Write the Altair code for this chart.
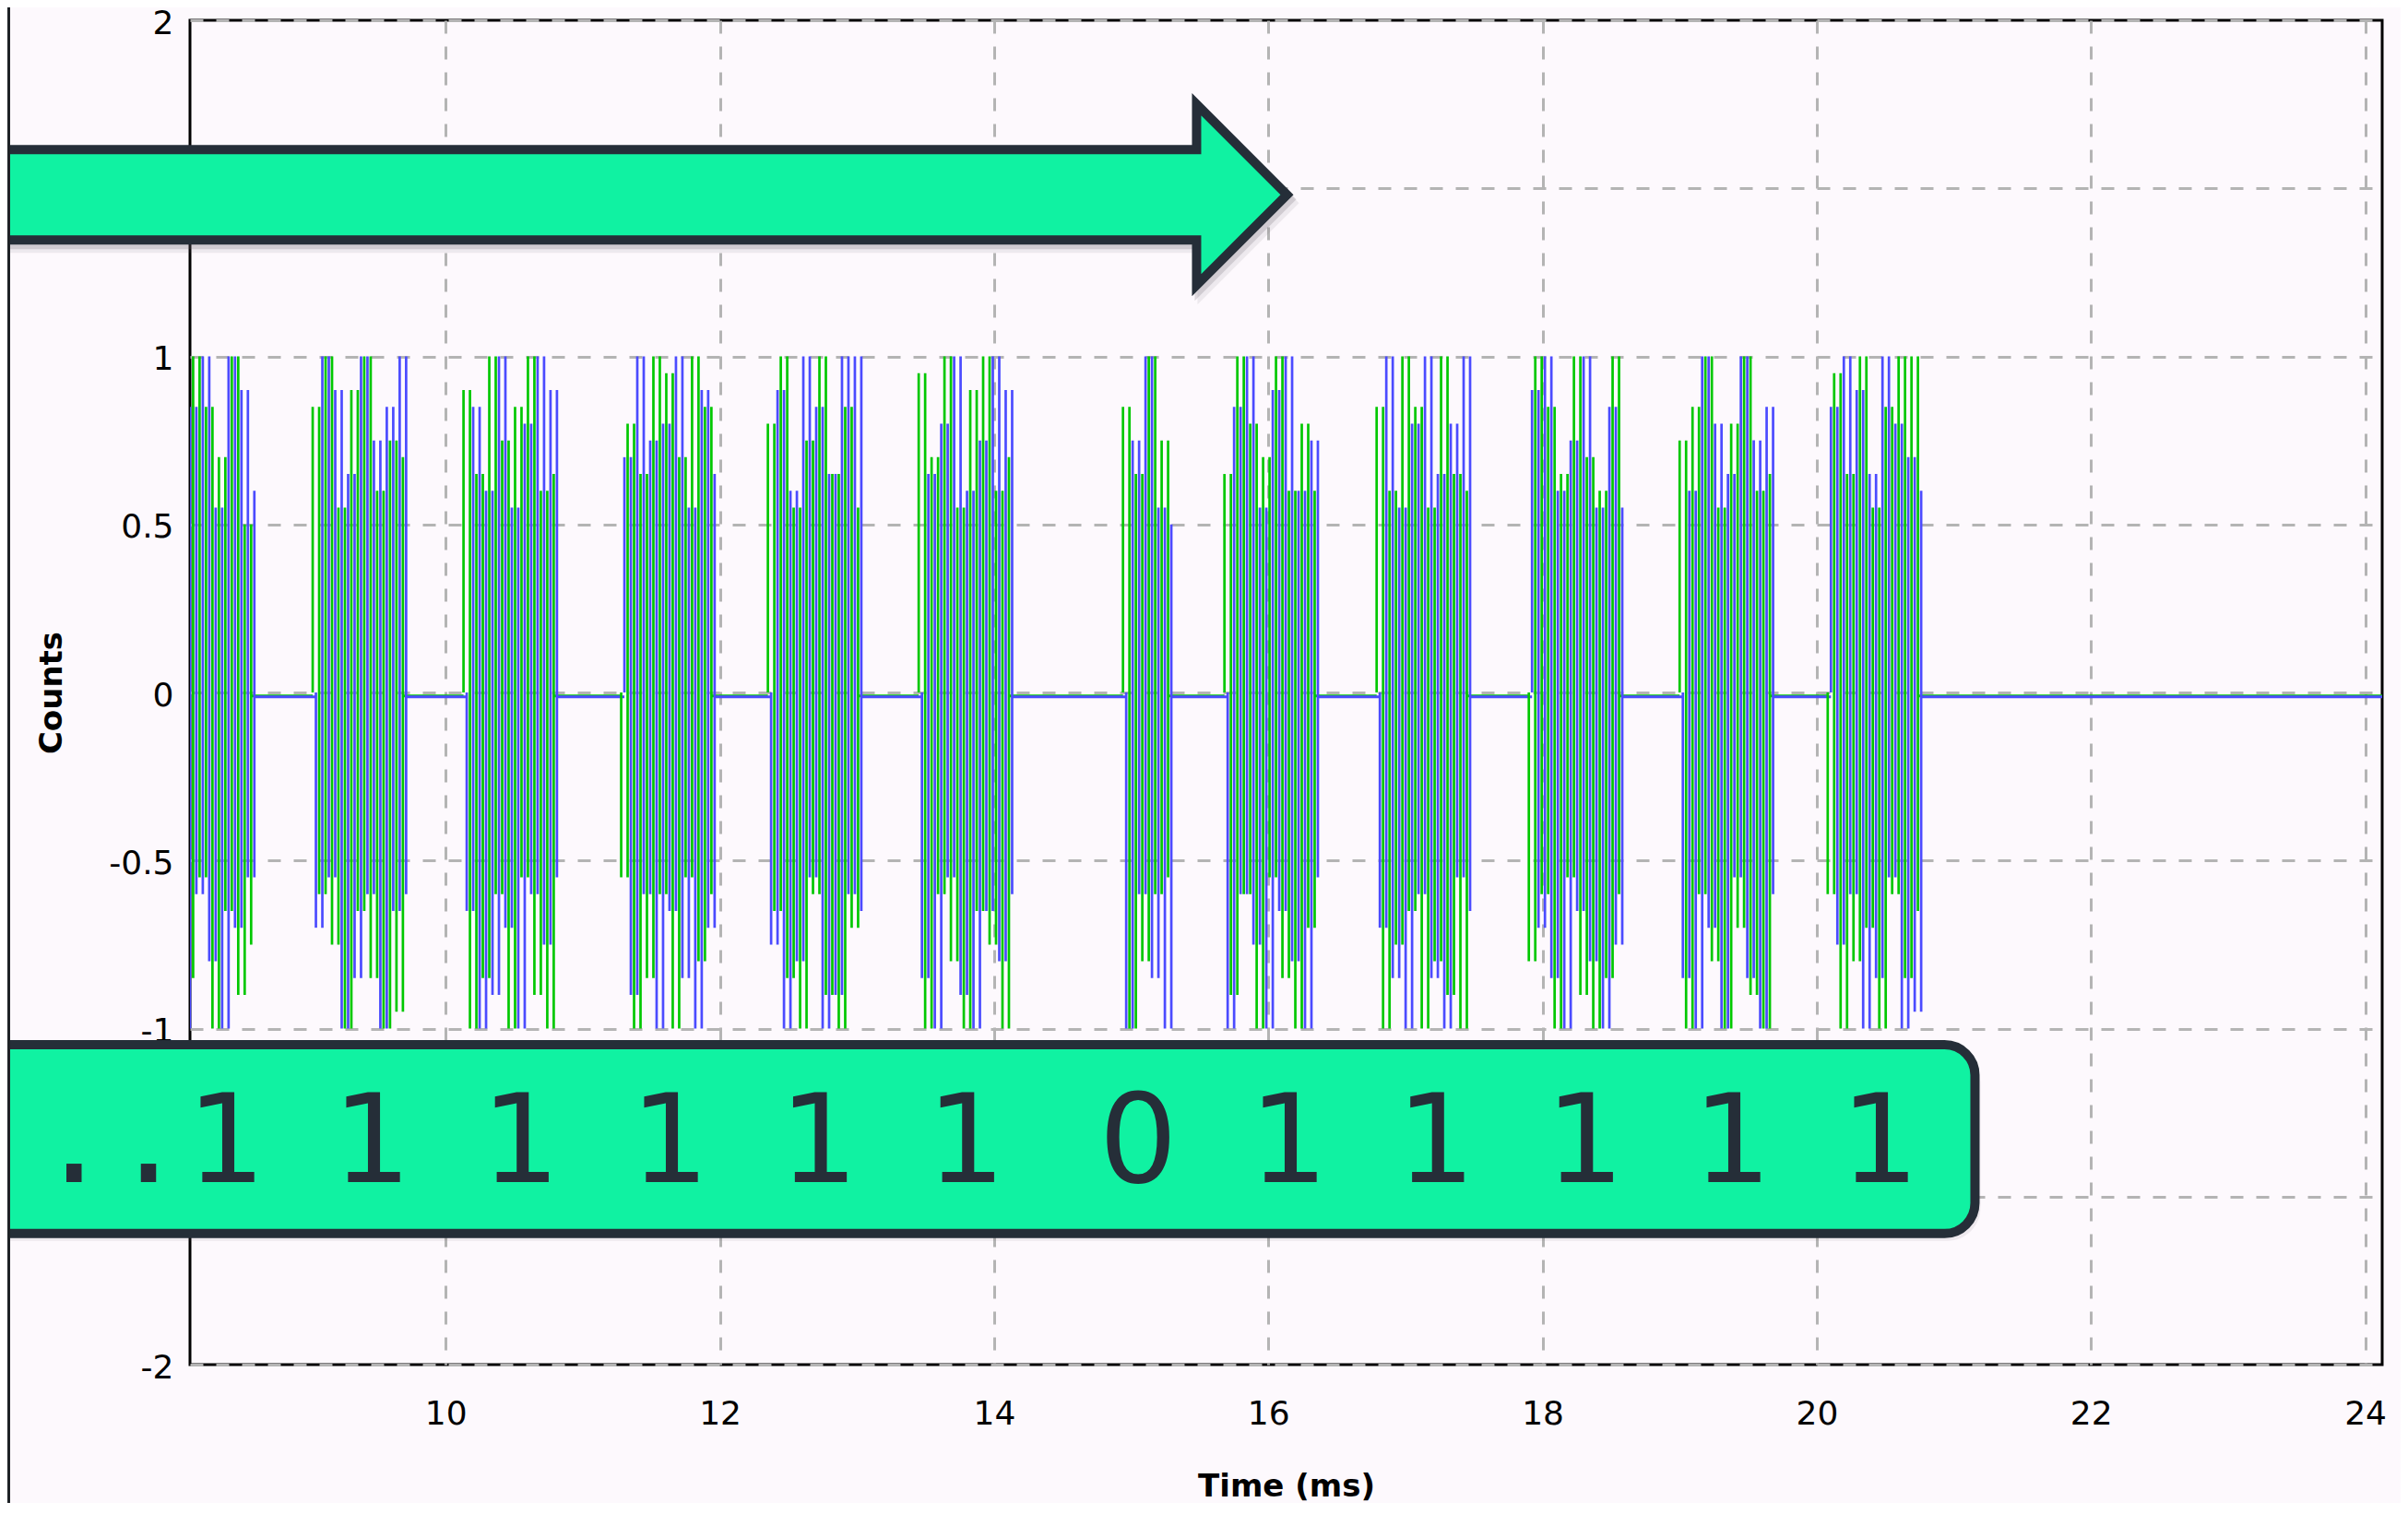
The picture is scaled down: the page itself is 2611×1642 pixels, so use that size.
import altair as alt
import pandas as pd

# ---------------- data ----------------
X_DOMAIN = [8.135, 24.124]
Y_DOMAIN = [-2, 2]
x_ticks = [10, 12, 14, 16, 18, 20, 22, 24]
y_ticks = [-2, -1.5, -1, -0.5, 0, 0.5, 1, 1.5, 2]

sample_pitch = 0.047      # ms between two samples of one channel
blue_offset = 0.0235      # blue channel sampled half a step later
trace_end = 24.124

burst_start = [7.97, 9.03, 10.13, 11.28, 12.35, 13.45, 14.94, 15.68, 16.79, 17.90, 19.00, 20.08]

# sample values in hundredths of a count
green_bursts = [
    [70, -100, 60, -85, 100, -55, 85, -100, 70, -65, 100, -90, 50, -75],
    [85, -60, 100, -75, 55, -100, 90, -65, 100, -85, 60, -100, 75, -95, 70],
    [90, -100, 65, -85, 100, -60, 75, -100, 85, -55, 100, -90, 60, -100, 65],
    [-55, 80, -100, 65, -85, 100, -60, 95, -100, 70, -55, 100, -80, 85, -60],
    [80, -65, 100, -85, 55, -100, 75, -60, 100, -90, 65, -100, 85, -70, 55],
    [95, -100, 70, -60, 100, -80, 55, -100, 90, -65, 100, -75, 60, -100, 70],
    [85, -100, 65, -80, 100, -60, 75, -55],
    [65, -90, 100, -60, 80, -100, 70, -55, 100, -85, 60, -100, 80, -70, 60],
    [85, -100, 60, -75, 100, -65, 85, -100, 55, -80, 100, -90, 65, -100, 60],
    [-80, 100, -60, 85, -100, 65, -55, 100, -90, 70, -100, 60, -85, 100, -60],
    [75, -100, 85, -60, 100, -80, 55, -100, 80, -70, 100, -90, 60, -100, 65],
    [-60, 95, -100, 65, -80, 100, -70, 55, -100, 85, -60, 100, -85, 100, -65],
]
blue_bursts = [
    [-90, 65, -100, 85, -60, 100, -80, 55, -100, 100, -70, 90, -55, 60],
    [-70, 100, -55, 90, -100, 65, -85, 100, -60, 75, -100, 85, -65, 100, -60],
    [-65, 85, -100, 60, -90, 100, -70, 55, -100, 80, -60, 100, -75, 90, -55],
    [70, -90, 100, -60, 75, -100, 80, -65, 100, -85, 55, -100, 90, -70, 65],
    [-75, 90, -100, 60, -80, 100, -55, 85, -100, 65, -90, 100, -60, 100, -65],
    [-85, 65, -100, 80, -55, 100, -90, 60, -100, 75, -65, 100, -80, 90, -60],
    [-100, 75, -60, 100, -85, 55, -100, 50],
    [-100, 85, -60, 100, -75, 55, -100, 90, -65, 100, -80, 60, -100, 75, -55],
    [-70, 100, -85, 55, -100, 80, -60, 100, -85, 65, -100, 80, -55, 100, -65],
    [90, -70, 100, -85, 60, -100, 75, -65, 100, -80, 55, -100, 85, -75, 55],
    [-85, 60, -100, 100, -70, 80, -100, 65, -55, 100, -85, 75, -100, 85, -60],
    [85, -75, 100, -60, 90, -100, 65, -85, 100, -55, 80, -100, 70, -95, 60],
]
baseline_green = -0.010
baseline_blue = -0.013

bits = ["1", "1", "1", "1", "1", "1", "0", "1", "1", "1", "1", "1"]
bit_x = [8.40, 9.462, 10.548, 11.635, 12.721, 13.796, 15.05, 16.148, 17.223, 18.309, 19.385, 20.46]
bit_y = -1.456
ellipsis_x = 8.104

arrow_tip = (16.136, 1.481)
box_x = [5.5, 21.154]
box_y = [-1.048, -1.610]

GREEN = "#00C800"
BLUE = "#4B4BFF"
MINT = "#10F2A2"
SLATE = "#252E38"
BG = "#FDF9FD"

# ---------------- tables ----------------
def bars_table(bursts, offset):
    rows = []
    for start, vals in zip(burst_start, bursts):
        prev = 0
        for k, v in enumerate(vals):
            rows.append({"t": start + offset + k * sample_pitch, "v": prev / 100, "v2": v / 100})
            prev = v
    return pd.DataFrame(rows)

def baseline_table(bursts, offset, level):
    rows = []
    for i, (start, vals) in enumerate(zip(burst_start, bursts)):
        end = start + offset + (len(vals) - 1) * sample_pitch
        nxt = burst_start[i + 1] + offset if i + 1 < len(burst_start) else trace_end
        rows.append({"t": end, "t2": nxt, "v": level})
    return pd.DataFrame(rows)

green_bars = bars_table(green_bursts, 0.0)
blue_bars = bars_table(blue_bursts, blue_offset)
green_base = baseline_table(green_bursts, 0.0, baseline_green)
blue_base = baseline_table(blue_bursts, blue_offset, baseline_blue)

bits_df = pd.DataFrame({"t": bit_x, "v": [bit_y] * len(bits), "bit": bits})
dots_df = pd.DataFrame({"t": [ellipsis_x], "v": [bit_y], "bit": ["..."]})
arrow_df = pd.DataFrame({"t": [arrow_tip[0]], "v": [arrow_tip[1]]})
box_df = pd.DataFrame({"t": [box_x[0]], "t2": [box_x[1]], "v": [box_y[0]], "v2": [box_y[1]]})

px_per_ms = 148.66
px_per_count = 364.6
shadow_df = pd.DataFrame({
    "t": [box_x[0], box_x[0]],
    "t2": [box_x[1] + 3 / px_per_ms, box_x[1] + 6 / px_per_ms],
    "v": [box_y[0] - 4 / px_per_count, box_y[0] - 8 / px_per_count],
    "v2": [box_y[1] - 4 / px_per_count, box_y[1] - 8 / px_per_count],
    "o": [0.22, 0.10],
})

# ---------------- scales / axes ----------------
x_scale = alt.Scale(domain=X_DOMAIN, nice=False, zero=False)
y_scale = alt.Scale(domain=Y_DOMAIN, nice=False, zero=False)
x_axis = alt.Axis(values=x_ticks, grid=True, gridDash=[14, 14], gridColor="#B4B4B4", gridWidth=3,
                  domain=False, ticks=False, labelFont="DejaVu Sans", labelFontSize=36,
                  labelColor="black", labelPadding=36, labelFlush=False, labelExpr="'' + datum.value",
                  title="Time (ms)", titleFont="DejaVu Sans", titleFontSize=34, titleFontWeight="bold",
                  titleColor="black", titleY=132, titleBaseline="middle")
y_axis = alt.Axis(values=y_ticks, grid=True, gridDash=[14, 14], gridColor="#B4B4B4", gridWidth=3,
                  domain=False, ticks=False, labelFont="DejaVu Sans", labelFontSize=36,
                  labelColor="black", labelPadding=18, labelFlush=False, labelOffset=3,
                  labelExpr="'' + datum.value",
                  title="Counts", titleFont="DejaVu Sans", titleFontSize=34, titleFontWeight="bold",
                  titleColor="black", titleX=-150, titleY=729, titleAngle=270,
                  titleAlign="center", titleBaseline="middle")

def X(f):
    return alt.X(f"{f}:Q", scale=x_scale, axis=x_axis)

def Y(f):
    return alt.Y(f"{f}:Q", scale=y_scale, axis=y_axis)

# ---------------- layers ----------------
base_g = alt.Chart(green_base).mark_rule(color=GREEN, strokeWidth=3, clip=True).encode(
    x=X("t"), x2="t2", y=Y("v"))
base_b = alt.Chart(blue_base).mark_rule(color=BLUE, strokeWidth=3, clip=True).encode(
    x=X("t"), x2="t2", y=Y("v"))
bars_g = alt.Chart(green_bars).mark_rule(color=GREEN, strokeWidth=2.7, strokeCap="butt", clip=True).encode(
    x=X("t"), y=Y("v"), y2="v2")
bars_b = alt.Chart(blue_bars).mark_rule(color=BLUE, strokeWidth=2.7, strokeCap="butt", clip=True).encode(
    x=X("t"), y=Y("v"), y2="v2")

arrow_pts = [(-1500, -49), (-98, -49), (-98, -98), (0, 0), (-98, 98), (-98, 49), (-1500, 49)]

def path_of(pts, dx=0, dy=0):
    return "M " + " L ".join(f"{x + dx} {y + dy}" for x, y in pts) + " Z"

arrow_shadow1 = alt.Chart(arrow_df).mark_point(
    shape=path_of(arrow_pts, 3, 5), size=4, filled=True, fill="#6E6670", opacity=0.22,
    stroke="#6E6670", strokeWidth=10, strokeJoin="miter").encode(x=X("t"), y=Y("v"))
arrow_shadow2 = alt.Chart(arrow_df).mark_point(
    shape=path_of(arrow_pts, 6, 9), size=4, filled=True, fill="#6E6670", opacity=0.10,
    stroke="#6E6670", strokeWidth=10, strokeJoin="miter").encode(x=X("t"), y=Y("v"))
arrow = alt.Chart(arrow_df).mark_point(
    shape=path_of(arrow_pts), size=4, filled=True, fill=MINT, opacity=1,
    stroke=SLATE, strokeWidth=10, strokeJoin="miter", strokeOpacity=1, fillOpacity=1).encode(
    x=X("t"), y=Y("v"))

box_shadow = alt.Chart(shadow_df).mark_rect(cornerRadius=36, color="#6E6670", strokeWidth=10).encode(
    x=X("t"), x2="t2", y=Y("v"), y2="v2", opacity=alt.Opacity("o:Q", scale=None, legend=None))
box = alt.Chart(box_df).mark_rect(cornerRadius=33, fill=MINT, stroke=SLATE, strokeWidth=10,
                                  opacity=1).encode(x=X("t"), x2="t2", y=Y("v"), y2="v2")

bit_text = alt.Chart(bits_df).mark_text(font="DejaVu Sans", fontSize=134, color=SLATE,
                                        align="center", baseline="alphabetic").encode(
    x=X("t"), y=Y("v"), text="bit:N")
dot_text = alt.Chart(dots_df).mark_text(font="DejaVu Sans Mono", fontSize=134, color=SLATE,
                                        align="right", baseline="alphabetic").encode(
    x=X("t"), y=Y("v"), text="bit:N")

left_edge = alt.Chart(arrow_df).mark_rule(color="#1E2226", strokeWidth=3).encode(
    x=alt.value(-196.5), y=alt.value(-14), y2=alt.value(1610))

chart = alt.layer(
    base_g, base_b, bars_g, bars_b,
    arrow_shadow2, arrow_shadow1, arrow,
    box_shadow, box, bit_text, dot_text, left_edge,
).properties(
    width=2377, height=1458,
    padding={"left": 198, "top": 14, "right": 20, "bottom": 150},
    autosize=alt.AutoSizeParams(type="none"),
    background=BG,
).configure_view(
    fill=BG, stroke="black", strokeWidth=3,
)

chart.save("out.html", embed_options={"renderer": "svg", "actions": False})
